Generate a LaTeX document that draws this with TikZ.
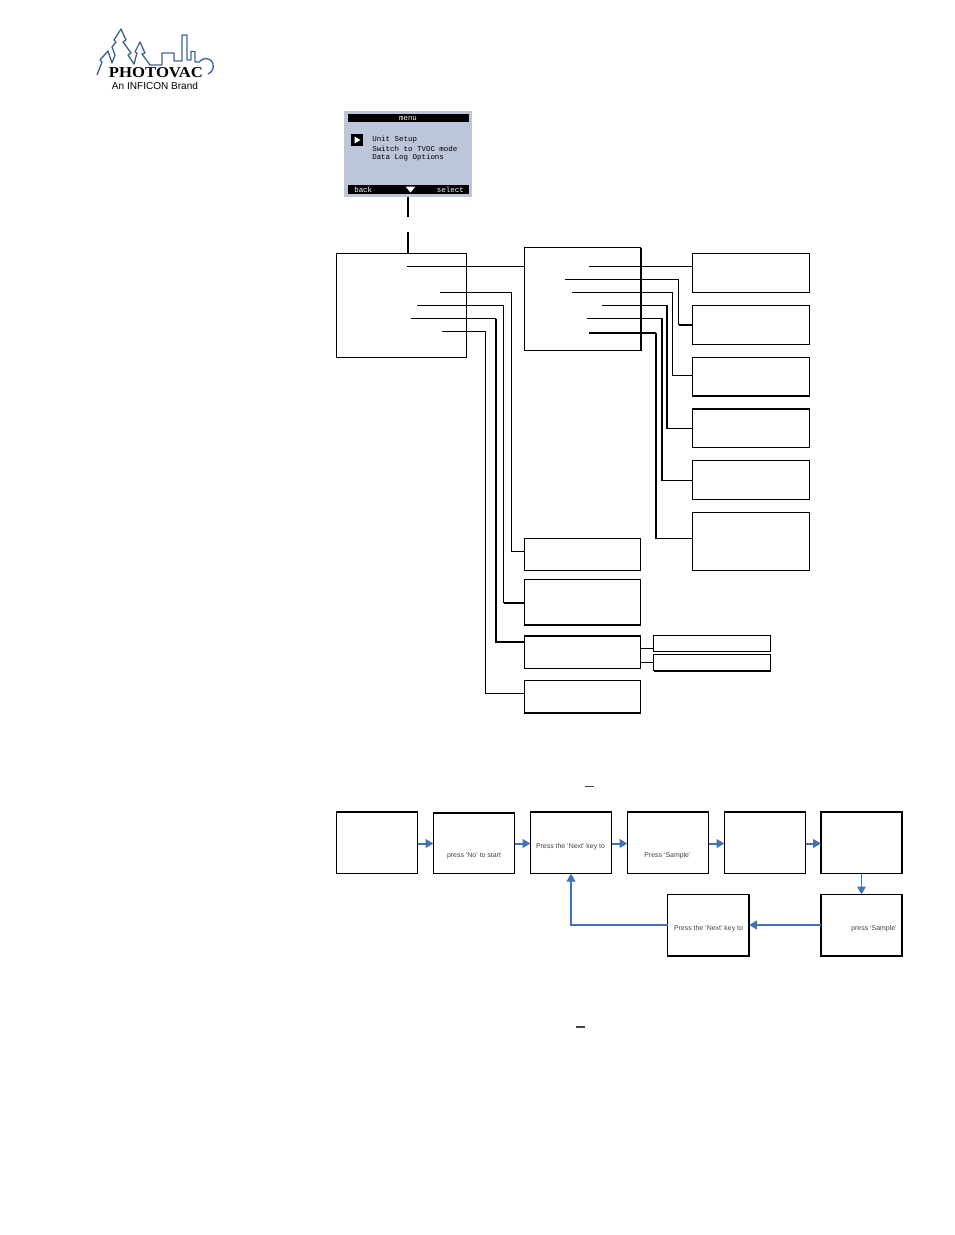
\documentclass[tikz,border=0pt]{standalone}
\usepackage{fontspec}
\setmainfont{Liberation Sans}
\newfontfamily\serifbold[BoldFont={Liberation Serif Bold}]{Liberation Serif}
\newfontfamily\lcdfont{Liberation Mono}
\definecolor{logoblue}{HTML}{3F6496}
\definecolor{lcd}{HTML}{BCC5D9}
\definecolor{flow}{HTML}{4472B8}
\definecolor{capt}{HTML}{444444}
\newcommand{\bx}[6][]{\node[boxs,#1,minimum width={(#4-#2)*0.75pt},minimum height={(#5-#3)*0.75pt}] (#6) at ({(#2+#4)/2},{(#3+#5)/2}) {};}
\usetikzlibrary{arrows.meta}
\tikzset{
  boxs/.style={draw=black,line width=0.9pt,fill=white,inner sep=0pt,outer sep=0pt,rectangle},
  wire/.style={draw=black,line width=0.85pt},
  hwire/.style={draw=black,line width=1.5pt},
  edge/.style={line width=1.5pt,line cap=butt},
  flowthick/.style={draw=flow,line width=1.5pt,-{Triangle[length=6pt,width=6.5pt]}},
  flowthin/.style={draw=flow,line width=0.9pt,-{Triangle[length=6pt,width=6.5pt]}},
  lcdtext/.style={font=\lcdfont\fontsize{5.6}{6}\selectfont,inner sep=0pt,anchor=base west},
  capt/.style={font=\fontsize{5.2}{6}\selectfont,text=capt,inner sep=0pt},
}
\begin{document}
\begin{tikzpicture}[x=0.75pt,y=-0.75pt]
\useasboundingbox (0,0) rectangle (954,1235);
% logo
\draw[logoblue,line width=1pt,line join=round]
 (97,75)--(102,62)--(100,60)--(108,51)--(112,63)--(115,55)--(112,47)--(116,42)--(114,40)--(121,29)
 --(126,40)--(123,42)--(131,53)--(128,55)--(134,64)--(137,53)--(135,52)--(140,42)--(145,53)--(142,54)--(150,65)
 --(162,65)--(162,53)--(174,53)--(174,61)--(182,61)--(182,35)--(187,35)--(187,60)--(191,60)--(191,51.5)--(195,51.5)--(195,62)--(199,62)
 .. controls (203,57) and (211,57) .. (213,64) .. controls (214,69) and (212,72) .. (208,74);
\node[inner sep=0pt] (logoname) at (156,73) {\resizebox{70.5pt}{7.5pt}{\serifbold\bfseries PHOTOVAC}};
\node[inner sep=0pt] (logosub) at (155,85.5) {\resizebox{64.5pt}{!}{An INFICON Brand}};
% screen
\bx[draw=none,fill=lcd]{344}{111}{472}{197}{screen}
\bx[draw=none,fill=black]{348}{114}{469}{122}{titlebar}
\bx[draw=none,fill=black]{348}{185}{469}{194}{softbar}
\node[lcdtext,anchor=base,text=white] (menutitle) at (408,120.5) {menu};
\node[lcdtext,text=white] (back) at (354,192) {back};
\node[lcdtext,anchor=base east,text=white] (select) at (464,192) {select};
\fill[white] (405.5,186.5)--(415.5,186.5)--(410.5,192.5)--cycle;
\bx[draw=none,fill=black]{351}{134}{363}{146}{pointer}
\fill[white] (354.5,136.5)--(360.5,140)--(354.5,143.5)--cycle;
\node[lcdtext] (m1) at (372,141) {Unit Setup};
\node[lcdtext] (m2) at (372,151) {Switch to TVOC mode};
\node[lcdtext] (m3) at (372,159.5) {Data Log Options};
% boxes
\bx{336.5}{253.5}{466.5}{357.5}{A}
\bx{524.5}{247.5}{640.5}{350.5}{B}
\bx{692.5}{253.5}{809.5}{292.5}{r1}
\bx{692.5}{305.5}{809.5}{344.5}{r2}
\bx{692.5}{357.5}{809.5}{396}{r3}
\bx{692.5}{409}{809.5}{447.5}{r4}
\bx{692.5}{460.5}{809.5}{499.5}{r5}
\bx{692.5}{512.5}{809.5}{570.5}{r6}
\bx{524.5}{538.5}{640.5}{570.5}{c1}
\bx{524.5}{579.5}{640.5}{625}{c2}
\bx{524.5}{636}{640.5}{668.5}{c3}
\bx{524.5}{680.5}{640.5}{713}{c4}
\bx{653.5}{635.5}{770.5}{651.5}{s1}
\bx{653.5}{654.5}{770.5}{670.5}{s2}
% heavy sides
\draw[edge] (B.north east)--(B.south east);
\foreach \n in {r1,r2,r3,r4,r5,r6}{\draw[edge,line width=1.1pt] (\n.north west)--(\n.south west);}
\draw[edge] (r3.south west)--(r3.south east);
\draw[edge] (r4.north west)--(r4.north east);
\foreach \n in {c1,c2,c3,c4}{\draw[edge,line width=1.1pt] (\n.north east)--(\n.south east);}
\draw[edge,line width=1.3pt] (c2.south west)--(c2.south east);
\draw[edge] (c3.north west)--(c3.north east);
\draw[edge] (c4.south west)--(c4.south east);
\draw[edge] (s2.south west)--(s2.south east);
% connectors from screen
\coordinate (stub1) at (408,217);
\coordinate (stub2) at (408,232);
\draw[hwire] (screen.south -| stub1) -- (stub1);
\draw[hwire] (stub2) -- (stub2 |- A.north);
% connectors A
\coordinate (a1) at (407,266.5);
\coordinate (a2) at (440,292.5);
\coordinate (a3) at (417,305.5);
\coordinate (a4) at (411,318.5);
\coordinate (a5) at (442,331.5);
\coordinate (va2) at (511.5,551.5);
\coordinate (va3) at (503.5,603);
\coordinate (va4) at (496,642);
\coordinate (va5) at (485.5,693.5);
\draw[wire] (a1) -- (a1 -| B.west);
\draw[wire] (a2) -| (va2) -- (va2 -| c1.west);
\draw[wire] (a3) -| (va3);
\draw[hwire] (va3) -- (va3 -| c2.west);
\draw[wire] (a4) -- (a4 -| va4);
\draw[hwire] (a4 -| va4) -- (va4) -- (va4 -| c3.west);
\draw[wire] (a5) -| (va5) -- (va5 -| c4.west);
% connectors B
\coordinate (b1) at (589,266.5);
\coordinate (b2) at (565,279.5);
\coordinate (b3) at (572,292.5);
\coordinate (b4) at (602,305.5);
\coordinate (b5) at (587,318.5);
\coordinate (b6) at (589,333);
\coordinate (vb2) at (678.5,325);
\coordinate (vb3) at (672.5,375.5);
\coordinate (vb4) at (667,428.5);
\coordinate (vb5) at (662,480.5);
\coordinate (vb6) at (656,538.5);
\draw[wire] (b1) -- (b1 -| r1.west);
\draw[wire] (b2) -| (vb2);
\draw[hwire] (vb2) -- (vb2 -| r2.west);
\draw[wire] (b3) -| (vb3) -- (vb3 -| r3.west);
\draw[wire,line width=1.1pt] (b4) -| (vb4) -- (vb4 -| r4.west);
\draw[wire,line width=1.1pt] (b5) -| (vb5) -- (vb5 -| r5.west);
\draw[hwire] (b6) -- (b6 -| vb6);
\draw[wire,line width=1.1pt] (b6 -| vb6) -- (vb6) -- (vb6 -| r6.west);
\coordinate (k1) at (640.5,648.5);
\coordinate (k2) at (640.5,662.5);
\draw[wire] (k1) -- (k1 -| s1.west);
\draw[wire] (k2) -- (k2 -| s2.west);
% dashes
\draw[draw=capt,line width=1pt] (585,786.5) -- (594,786.5);
\draw[draw=capt,line width=1pt] (576,1027) -- (585,1027);
% flow
\bx{336.5}{812}{417.5}{873.5}{f1}
\bx{433.5}{813}{514.5}{873.5}{f2}
\bx{530.5}{812}{611.5}{873.5}{f3}
\bx{627.5}{812}{708.5}{873.5}{f4}
\bx{724.5}{812}{805.5}{873.5}{f5}
\bx{821}{812}{902}{873.5}{f6}
\bx{821}{894.5}{902}{956}{f7}
\bx{667.5}{894.5}{749}{956}{f8}
\foreach \n in {f1,f2,f3,f4,f5,f6}{\draw[edge,line width=1.4pt] ([xshift=-0.5pt]\n.north west)--([xshift=0.5pt]\n.north east);}
\foreach \n in {f1,f2,f3}{\draw[edge,line width=1.4pt] (\n.north west)--(\n.south west);}
\draw[edge,line width=1.2pt] (f6.north east)--(f6.south east);
\draw[edge,line width=1.2pt] (f8.north east)--(f8.south east);
\draw[edge,line width=1.3pt] (f8.south west)--(f8.south east);
\draw[edge,line width=1.2pt] (f7.south west)--(f7.south east);
\node[capt] (t2) at (474,855.5) {press ‘No’ to start};
\node[capt] (t3) at (570.5,847) {Press the ‘Next’ key to};
\node[capt] (t4) at (667.5,855.5) {Press ‘Sample’};
\node[capt] (t7) at (874,929) {press ‘Sample’};
\node[capt] (t8) at (708.5,929) {Press the ‘Next’ key to};
\coordinate (fr) at (0,843.5);
\coordinate (fl) at (0,925);
\draw[flowthick] (f1.east |- fr) -- (f2.west |- fr);
\draw[flowthick] (f2.east |- fr) -- (f3.west |- fr);
\draw[flowthick] (f3.east |- fr) -- (f4.west |- fr);
\draw[flowthick] (f4.east |- fr) -- (f5.west |- fr);
\draw[flowthick] (f5.east |- fr) -- (f6.west |- fr);
\draw[flowthin] (f6.south) -- (f7.north);
\draw[flowthick] (f7.west |- fl) -- (f8.east |- fl);
\draw[flowthin,line width=1.1pt] (f8.west |- fl) -| (f3.south);
\end{tikzpicture}
\end{document}
